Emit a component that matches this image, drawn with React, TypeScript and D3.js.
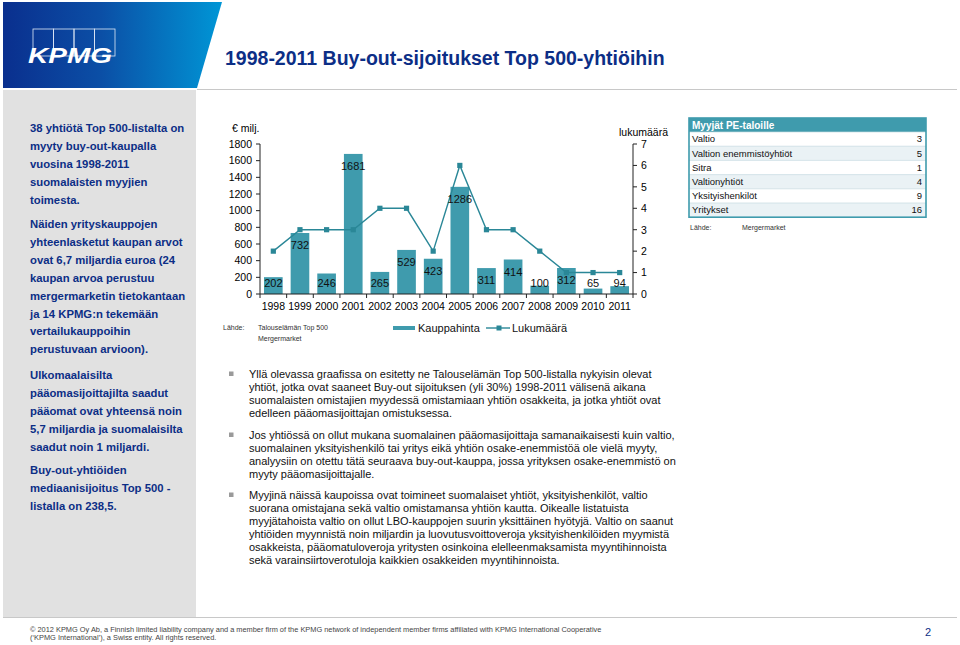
import React from "react";
import * as d3 from "d3";

const years = ["1998","1999","2000","2001","2002","2003","2004","2005","2006","2007","2008","2009","2010","2011"];
const dealValues = [202, 732, 246, 1681, 265, 529, 423, 1286, 311, 414, 100, 312, 65, 94];
const dealCounts = [2, 3, 3, 3, 4, 4, 2, 6, 3, 3, 2, 1, 1, 1];
const leftTicks = [0, 200, 400, 600, 800, 1000, 1200, 1400, 1600, 1800];
const rightTicks = [0, 1, 2, 3, 4, 5, 6, 7];
const sellerNames = ["Valtio", "Valtion enemmistöyhtiöt", "Sitra", "Valtionyhtiöt", "Yksityishenkilöt", "Yritykset"];
const sellerCounts = [3, 5, 1, 4, 9, 16];

const leftPara1 = ["38 yhtiötä Top 500-listalta on", "myyty buy-out-kaupalla", "vuosina 1998-2011", "suomalaisten myyjien", "toimesta."];
const leftPara2 = ["Näiden yrityskauppojen", "yhteenlasketut kaupan arvot", "ovat 6,7 miljardia euroa (24", "kaupan arvoa perustuu", "mergermarketin tietokantaan", "ja 14 KPMG:n tekemään", "vertailukauppoihin", "perustuvaan arvioon)."];
const leftPara3 = ["Ulkomaalaisilta", "pääomasijoittajilta saadut", "pääomat ovat yhteensä noin", "5,7 miljardia ja suomalaisilta", "saadut noin 1 miljardi."];
const leftPara4 = ["Buy-out-yhtiöiden", "mediaanisijoitus Top 500 -", "listalla on 238,5."];

const bullet1 = ["Yllä olevassa graafissa on esitetty ne Talouselämän Top 500-listalla nykyisin olevat", "yhtiöt, jotka ovat saaneet Buy-out sijoituksen (yli 30%) 1998-2011 välisenä aikana", "suomalaisten omistajien myydessä omistamiaan yhtiön osakkeita, ja  jotka yhtiöt ovat", "edelleen pääomasijoittajan omistuksessa."];
const bullet2 = ["Jos yhtiössä on ollut mukana suomalainen pääomasijoittaja samanaikaisesti kuin valtio,", "suomalainen yksityishenkilö tai yritys eikä yhtiön osake-enemmistöä ole vielä myyty,", "analyysiin on otettu tätä seuraava buy-out-kauppa, jossa yrityksen osake-enemmistö on", "myyty pääomasijoittajalle."];
const bullet3 = ["Myyjinä näissä kaupoissa ovat toimineet suomalaiset yhtiöt, yksityishenkilöt, valtio", "suorana omistajana sekä valtio omistamansa yhtiön kautta. Oikealle listatuista", "myyjätahoista valtio on ollut LBO-kauppojen suurin yksittäinen hyötyjä. Valtio on saanut", "yhtiöiden myynnistä noin miljardin ja luovutusvoittoveroja yksityishenkilöiden myymistä", "osakkeista, pääomatuloveroja yritysten osinkoina elelleenmaksamista myyntihinnoista", "sekä varainsiirtoverotuloja kaikkien osakkeiden myyntihinnoista."];

const NAVY = "#0c2e86";
const BAR = "#3f9bad";
const LINE = "#2a8797";
const FONT = "Arial, 'Liberation Sans', sans-serif";

export default function App() {
  const x = d3.scaleBand<string>().domain(years).range([260, 633]).padding(0);
  const yL = d3.scaleLinear().domain([0, 1800]).range([294, 144]);
  const yR = d3.scaleLinear().domain([0, 7]).range([294, 144]);
  const bw = x.bandwidth() * 0.7;
  const cx = (y: string) => (x(y) as number) + x.bandwidth() / 2;
  const line = d3.line<number>().x((_, i) => cx(years[i])).y((d) => yR(d));

  const leftBlock = (lines: string[], y0: number) =>
    lines.map((t, i) => (
      <text key={t} x={30} y={y0 + i * 17.9} fontSize={11.3} fontWeight="bold" fill={NAVY}>{t}</text>
    ));
  const bulletBlock = (lines: string[], y0: number) => (
    <g>
      <rect x={229} y={y0 - 6.5} width={4.5} height={4.5} fill="#9a9a9a" />
      {lines.map((t, i) => (
        <text key={i} x={249} y={y0 + i * 13} fontSize={11} fill="#111">{t}</text>
      ))}
    </g>
  );

  const rowH = 14.2;
  const tX0 = 689, tX1 = 926, tY0 = 118;

  return (
    <svg width={960} height={645} style={{ position: "absolute", left: 0, top: 0, background: "#fff" }} fontFamily={FONT}>
      <defs>
        <linearGradient id="kg" x1="0" y1="0" x2="1" y2="0">
          <stop offset="0" stopColor="#0a2f8e" />
          <stop offset="0.45" stopColor="#0b4fa6" />
          <stop offset="1" stopColor="#0096d6" />
        </linearGradient>
      </defs>
      {/* header */}
      <polygon points="3,2 222,2 197,88 3,88" fill="url(#kg)" />
      <line x1={197} x2={957} y1={89.5} y2={89.5} stroke="#c8c8c8" strokeWidth={1} />
      {[0, 1, 2, 3].map((i) => (
        <rect key={i} x={33 + i * 20.5} y={29} width={20.5} height={27} fill="none" stroke="#dfe8f5" strokeWidth={0.8} />
      ))}
      <text x={28} y={63} fontSize={22} fontWeight="bold" fontStyle="italic" fill="#fff" textLength={84} lengthAdjust="spacingAndGlyphs">KPMG</text>
      <text x={225} y={65} fontSize={19.5} fontWeight="bold" fill={NAVY}>1998-2011 Buy-out-sijoitukset Top 500-yhtiöihin</text>

      {/* left panel */}
      <rect x={3} y={90} width={193} height={527} fill="#e1e1e1" />
      {leftBlock(leftPara1, 132)}
      {leftBlock(leftPara2, 228)}
      {leftBlock(leftPara3, 379)}
      {leftBlock(leftPara4, 474)}
      <line x1={3} x2={957} y1={617.5} y2={617.5} stroke="#c8c8c8" strokeWidth={1} />

      {/* chart */}
      <text x={232} y={132} fontSize={10.5} fill="#000">€ milj.</text>
      <text x={668} y={136} fontSize={10.5} fill="#000" textAnchor="end">lukumäärä</text>
      {dealValues.map((v, i) => (
        <rect key={years[i]} x={cx(years[i]) - bw / 2} y={yL(v)} width={bw} height={yL(0) - yL(v)} fill={BAR} />
      ))}
      <line x1={260} x2={260} y1={144} y2={294} stroke="#222" />
      <line x1={633} x2={633} y1={144} y2={294} stroke="#222" />
      <line x1={260} x2={633} y1={294} y2={294} stroke="#222" />
      {leftTicks.map((t) => (
        <g key={t}>
          <line x1={256} x2={260} y1={yL(t)} y2={yL(t)} stroke="#222" />
          <text x={252} y={yL(t) + 3.8} fontSize={10.5} textAnchor="end">{t}</text>
        </g>
      ))}
      {rightTicks.map((t) => (
        <g key={t}>
          <line x1={633} x2={637} y1={yR(t)} y2={yR(t)} stroke="#222" />
          <text x={641} y={yR(t) + 3.8} fontSize={10.5}>{t}</text>
        </g>
      ))}
      {years.map((yv) => (
        <g key={yv}>
          <line x1={x(yv) as number} x2={x(yv) as number} y1={294} y2={298} stroke="#222" />
          <text x={cx(yv)} y={310} fontSize={10.5} textAnchor="middle">{yv}</text>
        </g>
      ))}
      <line x1={633} x2={633} y1={294} y2={298} stroke="#222" />
      <path d={line(dealCounts) || ""} fill="none" stroke={LINE} strokeWidth={1.4} />
      {dealCounts.map((c, i) => (
        <rect key={i} x={cx(years[i]) - 2.6} y={yR(c) - 2.6} width={5.2} height={5.2} fill={LINE} />
      ))}
      {dealValues.map((v, i) => (
        <text key={i} x={cx(years[i])} y={Math.min(yL(v) + 12, yL(0) - 11) + 4} fontSize={11} textAnchor="middle" fill="#111">{v}</text>
      ))}

      {/* source + legend */}
      <text x={223} y={330} fontSize={7} fill="#333">Lähde:</text>
      <text x={258} y={330} fontSize={7} fill="#333">Talouselämän Top 500</text>
      <text x={258} y={341} fontSize={7} fill="#333">Mergermarket</text>
      <rect x={393} y={326} width={22} height={4} fill={BAR} />
      <text x={418} y={332} fontSize={11} fill="#111">Kauppahinta</text>
      <line x1={486} x2={510} y1={328} y2={328} stroke={LINE} strokeWidth={1.4} />
      <rect x={496.5} y={325.5} width={5} height={5} fill={LINE} />
      <text x={512} y={332} fontSize={11} fill="#111">Lukumäärä</text>

      {/* table */}
      <rect x={tX0} y={tY0} width={tX1 - tX0} height={14} fill={BAR} />
      <text x={tX0 + 3} y={tY0 + 10.5} fontSize={10} fontWeight="bold" fill="#fff">Myyjät PE-taloille</text>
      {sellerNames.map((n, i) => {
        const ry = tY0 + 14 + i * rowH;
        return (
          <g key={n}>
            <rect x={tX0} y={ry} width={tX1 - tX0} height={rowH} fill={i % 2 === 1 ? "#eaf2f5" : "#fff"} />
            <line x1={tX0} x2={tX1} y1={ry} y2={ry} stroke="#c5dbe1" strokeWidth={0.7} />
            <text x={tX0 + 3} y={ry + 10.3} fontSize={9.5} fill="#111">{n}</text>
            <text x={tX1 - 4} y={ry + 10.3} fontSize={9.5} fill="#111" textAnchor="end">{sellerCounts[i]}</text>
          </g>
        );
      })}
      <rect x={tX0} y={tY0} width={tX1 - tX0} height={14 + rowH * sellerNames.length} fill="none" stroke={BAR} strokeWidth={1.6} />
      <text x={690} y={230} fontSize={7} fill="#333">Lähde:</text>
      <text x={742} y={230} fontSize={7} fill="#333">Mergermarket</text>

      {/* bullets */}
      {bulletBlock(bullet1, 378)}
      {bulletBlock(bullet2, 439)}
      {bulletBlock(bullet3, 499)}

      {/* footer */}
      <text x={30} y={632} fontSize={7.4} fill="#444">© 2012 KPMG Oy Ab, a Finnish limited liability company and a member firm of the KPMG network of independent member firms affiliated with KPMG International Cooperative</text>
      <text x={30} y={640} fontSize={7.4} fill="#444">(‘KPMG International’), a Swiss entity.  All rights reserved.</text>
      <text x={925} y={636} fontSize={11} fill={NAVY}>2</text>
    </svg>
  );
}
